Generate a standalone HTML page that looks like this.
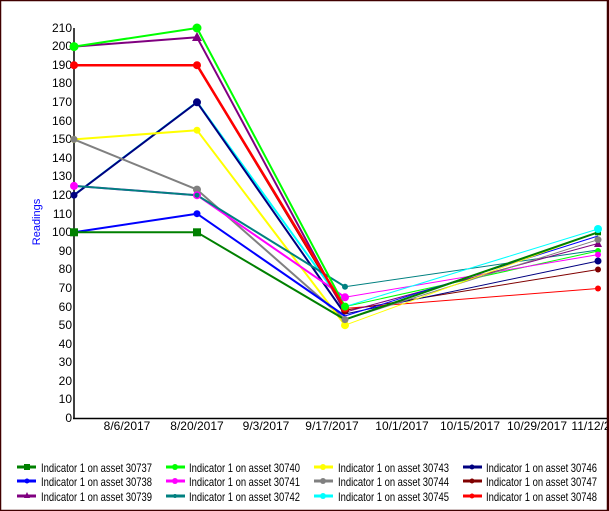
<!DOCTYPE html>
<html><head><style>
html,body{margin:0;padding:0;background:#fff;}
svg{display:block;font-family:"Liberation Sans",sans-serif;}
</style></head><body>
<svg width="609" height="511" viewBox="0 0 609 511" xmlns="http://www.w3.org/2000/svg">
<rect x="0.5" y="0.5" width="607" height="510" fill="#fff" stroke="#400000" stroke-width="1.5"/>
<g font-size="12" fill="#000" text-anchor="end">
<text x="72" y="422">0</text><text x="72" y="403">10</text><text x="72" y="385">20</text><text x="72" y="366">30</text><text x="72" y="348">40</text><text x="72" y="329">50</text><text x="72" y="311">60</text><text x="72" y="292">70</text><text x="72" y="273">80</text><text x="72" y="255">90</text><text x="72" y="236">100</text><text x="72" y="218">110</text><text x="72" y="199">120</text><text x="72" y="180">130</text><text x="72" y="162">140</text><text x="72" y="143">150</text><text x="72" y="125">160</text><text x="72" y="106">170</text><text x="72" y="87">180</text><text x="72" y="69">190</text><text x="72" y="50">200</text><text x="72" y="32">210</text>
</g>
<g font-size="12" fill="#000" text-anchor="middle">
<text x="127" y="430">8/6/2017</text><text x="197" y="430">8/20/2017</text><text x="266" y="430">9/3/2017</text><text x="332" y="430">9/17/2017</text><text x="402" y="430">10/1/2017</text><text x="470" y="430">10/15/2017</text><text x="537" y="430">10/29/2017</text><text x="601" y="430">11/12/2017</text>
</g>
<text x="0" y="0" font-size="11" fill="#0000ff" text-anchor="middle" transform="translate(40,222) rotate(-90)">Readings</text>
<line x1="74" y1="28" x2="74" y2="419" stroke="#000" stroke-width="1.5"/>
<line x1="73" y1="418.5" x2="609" y2="418.5" stroke="#000" stroke-width="1.5"/>
<g fill="none" stroke-linejoin="round">
<polyline stroke="#800000" stroke-width="2" points="74,65.2 197,65.2 345,310.3"/>
<polyline stroke="#00ffff" stroke-width="2" points="74,195 197,102 345,306.6"/>
<polyline stroke="#000080" stroke-width="2" points="74,195.2 197,102.3 345,314"/>
<polyline stroke="#808080" stroke-width="2" points="74,139.4 197,189.6 345,319.6"/>
<polyline stroke="#ffff00" stroke-width="2" points="74,139.4 197,130.2 345,325.2"/>
<polyline stroke="#ff00ff" stroke-width="2" points="74,185.9 197,195.2 345,297.3"/>
<polyline stroke="#008080" stroke-width="2" points="74,185.9 197,195.2 345,286.7"/>
<polyline stroke="#0000ff" stroke-width="2" points="74,232.3 197,213.7 345,316"/>
<polyline stroke="#008000" stroke-width="2" points="74,232.3 197,232.3 345,319.6"/>
<polyline stroke="#800080" stroke-width="2" points="74,46.6 197,37.3 345,312.2"/>
<polyline stroke="#00ff00" stroke-width="2" points="74,46.6 197,28 345,306.6"/>
<polyline stroke="#ff0000" stroke-width="2.5" points="74,65.2 197,65.2 345,308.4"/>
<polyline stroke="#ff0000" stroke-width="1" points="345,308.4 598,288.5"/>
<polyline stroke="#800000" stroke-width="1" points="345,310.3 598,269.5"/>
<polyline stroke="#000080" stroke-width="1" points="345,314 598,261"/>
<polyline stroke="#00ff00" stroke-width="1" points="345,306.6 598,251"/>
<polyline stroke="#ff00ff" stroke-width="1" points="345,297.3 598,254.6"/>
<polyline stroke="#008080" stroke-width="1" points="345,286.7 598,250"/>
<polyline stroke="#800080" stroke-width="1" points="345,312.2 598,243.5"/>
<polyline stroke="#808080" stroke-width="1" points="345,319.6 598,239.7"/>
<polyline stroke="#0000ff" stroke-width="1" points="345,316 598,236"/>
<polyline stroke="#ffff00" stroke-width="1" points="345,325.2 598,232.3"/>
<polyline stroke="#008000" stroke-width="2" points="345,319.6 598,232.3"/>
<polyline stroke="#00ffff" stroke-width="1" points="345,306.6 598,229"/>
</g>
<g>
<circle cx="598" cy="269.5" r="3" fill="#800000"/><circle cx="345" cy="310.3" r="4" fill="#800000"/>
<circle cx="197" cy="65.2" r="4" fill="#ff0000"/><circle cx="74" cy="65.2" r="4" fill="#ff0000"/><circle cx="345" cy="308.4" r="4" fill="#ff0000"/><circle cx="598" cy="288.5" r="3" fill="#ff0000"/>
<circle cx="197" cy="102.3" r="4" fill="#000080"/><circle cx="74" cy="195.2" r="3.5" fill="#000080"/><circle cx="598" cy="261" r="3.5" fill="#000080"/>
<circle cx="197" cy="28" r="4.5" fill="#00ff00"/><circle cx="74" cy="46.6" r="4.5" fill="#00ff00"/><circle cx="345" cy="306.6" r="4" fill="#00ff00"/><circle cx="598" cy="251" r="3" fill="#00ff00"/>
<polygon points="197,32 202,41 192,41" fill="#800080"/><polygon points="598,239 602,247 594,247" fill="#800080"/>
<circle cx="197" cy="130.2" r="3.5" fill="#ffff00"/><circle cx="74" cy="139.4" r="3.5" fill="#ffff00"/><circle cx="345" cy="325.2" r="4" fill="#ffff00"/>
<circle cx="197" cy="189.6" r="4" fill="#808080"/><circle cx="74" cy="139.4" r="3.5" fill="#808080"/><circle cx="345" cy="319.6" r="3.5" fill="#808080"/><circle cx="598" cy="239.7" r="3.5" fill="#808080"/>
<circle cx="197" cy="195.2" r="4" fill="#ff00ff"/><circle cx="74" cy="185.9" r="4" fill="#ff00ff"/><circle cx="345" cy="297.3" r="4" fill="#ff00ff"/><circle cx="598" cy="254.6" r="3" fill="#ff00ff"/>
<circle cx="345" cy="286.7" r="3" fill="#008080"/><circle cx="197" cy="195.2" r="2.5" fill="#008080"/>
<circle cx="197" cy="213.7" r="3.5" fill="#0000ff"/><circle cx="74" cy="232.3" r="3.5" fill="#0000ff"/>
<rect x="193" y="228.3" width="8" height="8" fill="#008000"/><rect x="70" y="228.3" width="8" height="8" fill="#008000"/><rect x="595" y="229.3" width="6" height="6" fill="#008000"/>
<circle cx="598" cy="229" r="4" fill="#00ffff"/>
</g>
<g font-size="12" fill="#000">
<g stroke-width="3">
<line x1="17" y1="467" x2="36" y2="467" stroke="#008000"/><line x1="17" y1="481" x2="36" y2="481" stroke="#0000ff"/><line x1="17" y1="496" x2="36" y2="496" stroke="#800080"/>
<line x1="166" y1="467" x2="185" y2="467" stroke="#00ff00"/><line x1="166" y1="481" x2="185" y2="481" stroke="#ff00ff"/><line x1="166" y1="496" x2="185" y2="496" stroke="#008080"/>
<line x1="314" y1="467" x2="333" y2="467" stroke="#ffff00"/><line x1="314" y1="481" x2="333" y2="481" stroke="#808080"/><line x1="314" y1="496" x2="333" y2="496" stroke="#00ffff"/>
<line x1="463" y1="467" x2="482" y2="467" stroke="#000080"/><line x1="463" y1="481" x2="482" y2="481" stroke="#800000"/><line x1="463" y1="496" x2="482" y2="496" stroke="#ff0000"/>
</g>
<rect x="24" y="464" width="6" height="6" fill="#008000"/><circle cx="175" cy="467" r="3" fill="#00ff00"/><circle cx="323" cy="467" r="3" fill="#ffff00"/><circle cx="472" cy="467" r="2.5" fill="#000080"/>
<circle cx="27" cy="481" r="2.5" fill="#0000ff"/><circle cx="175" cy="481" r="3" fill="#ff00ff"/><circle cx="323" cy="481" r="3" fill="#808080"/><circle cx="472" cy="481" r="2.5" fill="#800000"/>
<polygon points="27,492 30,498 24,498" fill="#800080"/><circle cx="175" cy="496" r="2" fill="#008080"/><circle cx="323" cy="496" r="3" fill="#00ffff"/><circle cx="472" cy="496" r="2.5" fill="#ff0000"/>
<text x="41" y="472" textLength="111" lengthAdjust="spacingAndGlyphs">Indicator 1 on asset 30737</text><text x="41" y="486" textLength="111" lengthAdjust="spacingAndGlyphs">Indicator 1 on asset 30738</text><text x="41" y="501" textLength="111" lengthAdjust="spacingAndGlyphs">Indicator 1 on asset 30739</text>
<text x="189" y="472" textLength="111" lengthAdjust="spacingAndGlyphs">Indicator 1 on asset 30740</text><text x="189" y="486" textLength="111" lengthAdjust="spacingAndGlyphs">Indicator 1 on asset 30741</text><text x="189" y="501" textLength="111" lengthAdjust="spacingAndGlyphs">Indicator 1 on asset 30742</text>
<text x="338" y="472" textLength="111" lengthAdjust="spacingAndGlyphs">Indicator 1 on asset 30743</text><text x="338" y="486" textLength="111" lengthAdjust="spacingAndGlyphs">Indicator 1 on asset 30744</text><text x="338" y="501" textLength="111" lengthAdjust="spacingAndGlyphs">Indicator 1 on asset 30745</text>
<text x="486" y="472" textLength="111" lengthAdjust="spacingAndGlyphs">Indicator 1 on asset 30746</text><text x="486" y="486" textLength="111" lengthAdjust="spacingAndGlyphs">Indicator 1 on asset 30747</text><text x="486" y="501" textLength="111" lengthAdjust="spacingAndGlyphs">Indicator 1 on asset 30748</text>
</g>
<rect x="607" y="0" width="2" height="511" fill="#400000"/>
</svg>
</body></html>
